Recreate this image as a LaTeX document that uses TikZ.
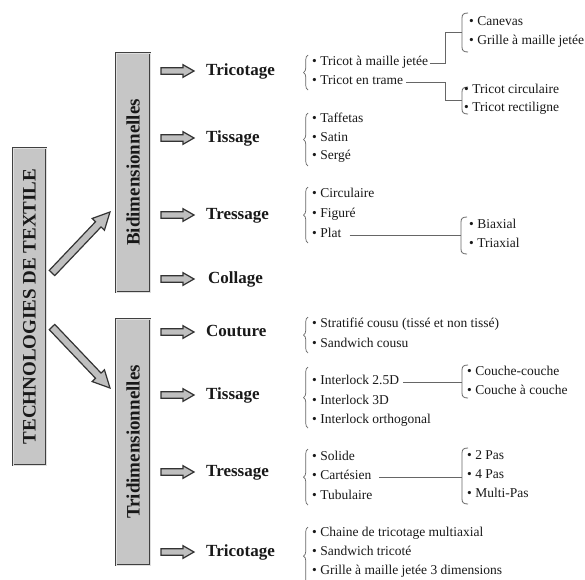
\documentclass[tikz,border=0pt]{standalone}
\usepackage{fontspec}
\setmainfont{Liberation Serif}
\usetikzlibrary{calc,decorations.pathreplacing}

\tikzset{
 boxst/.style={draw=black!75, line width=1pt, double=gray!25, double distance=0.8pt, fill=gray!45, inner sep=0, font=\fontsize{19}{19}\selectfont\bfseries, text=black!90},
 lbl/.style={anchor=mid west, inner sep=0, font=\fontsize{17}{17}\selectfont\bfseries, text=black!90},
 itm/.style={anchor=mid west, inner sep=0, font=\fontsize{13.5}{14}\selectfont, text=black!90},
 brc/.style={decorate, decoration={brace, amplitude=4.5pt}, draw=black!60, line width=0.7pt},
 conn/.style={draw=black!60, line width=0.8pt},
 harr/.style={draw=black!80, fill=gray!50, line width=1.2pt, line join=miter},
}

\newcommand{\hollowarr}[5]{%
 \coordinate (tmpH) at ($(#2)!#5!(#1)$);
 \draw[harr] ($(#1)!#3!90:(#2)$) -- ($(tmpH)!#3!90:(#2)$) -- ($(tmpH)!#4!90:(#2)$) -- (#2) -- ($(tmpH)!#4!-90:(#2)$) -- ($(tmpH)!#3!-90:(#2)$) -- ($(#1)!#3!-90:(#2)$) -- cycle;}

\newcommand{\sqbr}[3]{%
 \draw[conn] (#1+6,#2) .. controls (#1+1.5,#2) and (#1,#2+1.5) .. (#1,#2+5) -- (#1,#3-5) .. controls (#1,#3-1.5) and (#1+1.5,#3) .. (#1+6,#3);}

\begin{document}
\begin{tikzpicture}[x=1pt,y=-1pt]
\useasboundingbox (0,0) rectangle (585,579);
\clip (0,0) rectangle (585,579);
\fill[white] (0,0) rectangle (585,579);

% boxes
\node[boxst, rotate=90, minimum width=317pt, minimum height=33pt] (tech) at (29.5,306.5) {TECHNOLOGIES DE TEXTILE};
\node[boxst, rotate=90, minimum width=239pt, minimum height=34pt] (bidim) at (133,172.5) {Bidimensionnelles};
\node[boxst, rotate=90, minimum width=246pt, minimum height=34pt] (tridim) at (133,442) {Tridimensionnelles};

% big arrows
\coordinate (u1) at (52,273); \coordinate (u2) at (110,212);
\coordinate (d1) at (52,327); \coordinate (d2) at (110,388);
\hollowarr{u1}{u2}{3.8pt}{8.5pt}{17pt}
\hollowarr{d1}{d2}{3.8pt}{8.5pt}{17pt}

% small arrows
\foreach \y [count=\i] in {71,138,215,279,332,395,472,552} {
 \coordinate (s\i) at (161,\y); \coordinate (e\i) at (194,\y);
 \hollowarr{s\i}{e\i}{3.3pt}{6.3pt}{11pt}
}

% labels
\node[lbl] (l1) at (206,73) {Tricotage};
\node[lbl] (l2) at (206,140) {Tissage};
\node[lbl] (l3) at (206,217) {Tressage};
\node[lbl] (l4) at (208,281) {Collage};
\node[lbl] (l5) at (206,334) {Couture};
\node[lbl] (l6) at (206,397) {Tissage};
\node[lbl] (l7) at (206,474) {Tressage};
\node[lbl] (l8) at (206,554) {Tricotage};

% 2D tricotage
\draw[brc] (308,90) -- (308,55);
\node[itm] (tmj) at (312,63) {• Tricot à maille jetée};
\node[itm] (ite) at (312,82) {• Tricot en trame};
\sqbr{462}{13}{52}
\node[itm] (can) at (469,23) {• Canevas};
\node[itm] (gmj) at (469,42) {• Grille à maille jetée};
\sqbr{462}{87}{114}
\node[itm] (tcir) at (464,91) {• Tricot circulaire};
\node[itm] (trec) at (464,109) {• Tricot rectiligne};
\coordinate (jA) at (445,32); \coordinate (bA) at (462,32);
\coordinate (jB) at (445,100); \coordinate (bB) at (462,100);
\draw[conn] ([xshift=2pt]tmj.mid east) -| (jA) -- (bA);
\draw[conn] ([xshift=3pt]ite.mid east) -| (jB) -- (bB);

% 2D tissage
\draw[brc] (308,166) -- (308,113);
\node[itm] (taf) at (312,120) {• Taffetas};
\node[itm] (sat) at (312,139) {• Satin};
\node[itm] (ser) at (312,157) {• Sergé};

% 2D tressage
\draw[brc] (308,243) -- (308,187);
\node[itm] (cir) at (312,195) {• Circulaire};
\node[itm] (fig) at (312,215) {• Figuré};
\node[itm] (plat) at (312,235) {• Plat};
\sqbr{461}{217}{254}
\node[itm] (biax) at (469,226) {• Biaxial};
\node[itm] (triax) at (469,245) {• Triaxial};
\coordinate (bC) at (461,235);
\draw[conn] ([xshift=8pt]plat.mid east) -- (bC);

% 3D couture
\draw[brc] (308,353) -- (308,317);
\node[itm] (strat) at (312,325) {• Stratifié cousu (tissé et non tissé)};
\node[itm] (sandc) at (312,345) {• Sandwich cousu};

% 3D tissage
\draw[brc] (308,428) -- (308,367);
\node[itm] (i25) at (312,382) {• Interlock 2.5D};
\node[itm] (i3d) at (312,402) {• Interlock 3D};
\node[itm] (iort) at (312,421) {• Interlock orthogonal};
\sqbr{462}{365}{398}
\node[itm] (couc) at (467,373) {• Couche-couche};
\node[itm] (cac) at (467,392) {• Couche à couche};
\coordinate (bD) at (462,382);
\draw[conn] ([xshift=4pt]i25.mid east) -- (bD);

% 3D tressage
\draw[brc] (308,505) -- (308,449);
\node[itm] (sol) at (312,458) {• Solide};
\node[itm] (cart) at (312,477) {• Cartésien};
\node[itm] (tub) at (312,497) {• Tubulaire};
\sqbr{462}{448}{504}
\node[itm] (p2) at (467,457) {• 2 Pas};
\node[itm] (p4) at (467,476) {• 4 Pas};
\node[itm] (mp) at (467,495) {• Multi-Pas};
\coordinate (bE) at (462,477);
\draw[conn] ([xshift=8pt]cart.mid east) -- (bE);

% 3D tricotage
\draw[brc] (308,585) -- (308,527);
\node[itm] (chm) at (312,534) {• Chaine de tricotage multiaxial};
\node[itm] (sandt) at (312,553) {• Sandwich tricoté};
\node[itm] (gmj3) at (312,572) {• Grille à maille jetée 3 dimensions};
\end{tikzpicture}
\end{document}
